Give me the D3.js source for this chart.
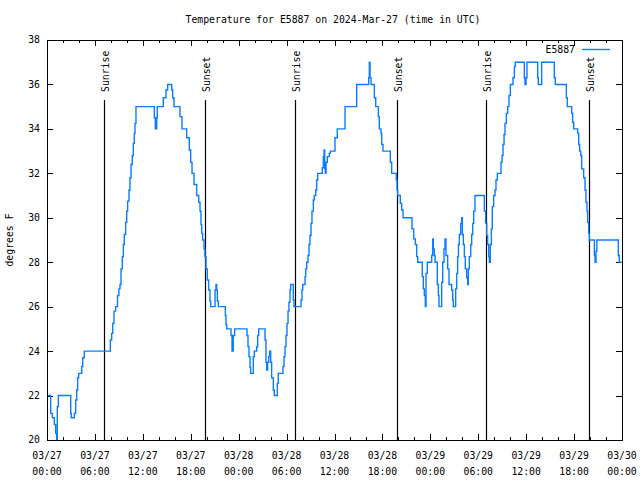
<!DOCTYPE html>
<html>
<head>
<meta charset="utf-8">
<script src="https://cdn.jsdelivr.net/npm/d3@7"></script>
<style>
  html, body { margin: 0; padding: 0; background: #fff; }
  svg { display: block; }
  text { font-family: "DejaVu Sans Mono", "Liberation Mono", monospace; font-size: 9.8px; fill: #000; }
</style>
</head>
<body>
<svg id="chart" width="640" height="480"></svg>
<script>
// ---- data (hours since 2024-03-27 00:00 UTC, temperature in deg F) ----
const titleText = "Temperature for E5887 on 2024-Mar-27 (time in UTC)";
const seriesName = "E5887";
const yLabel = "degrees F";
const startDate = "2024-03-27T00:00:00Z";
const endDate = "2024-03-30T00:00:00Z";
const yTicks = [20, 22, 24, 26, 28, 30, 32, 34, 36, 38];

const hours = [
  0, 0.46, 0.67, 0.92, 1.09, 1.21, 1.29, 1.42, 2.97, 3.04, 3.42, 3.59, 3.72, 3.84, 3.97, 4.35, 4.47, 4.67,
  7.93, 8.1, 8.23, 8.39, 8.6, 8.83, 9.0, 9.14, 9.27, 9.43, 9.56, 9.68, 9.85, 9.98, 10.1, 10.27, 10.39, 10.52,
  10.68, 10.81, 10.93, 11.02, 11.14, 13.44, 13.56, 13.74, 13.81, 14.56, 14.9, 15.11, 15.61, 15.74, 15.9,
  16.65, 16.9, 17.49, 17.82, 17.99, 18.16, 18.41, 18.74, 19.0, 19.16, 19.28, 19.37, 19.49, 19.66, 19.78,
  19.91, 20.07, 20.24, 20.41, 20.5, 21.04, 21.16, 21.25, 21.33, 21.45, 22.33, 22.41, 22.5, 23.04, 23.17,
  23.33, 23.5, 25.04, 25.17, 25.29, 25.42, 25.5, 25.83, 25.96, 26.26, 26.38, 26.51, 27.3, 27.42, 27.51,
  27.63, 27.76, 27.88, 28.01, 28.13, 28.34, 28.46, 28.84, 28.96, 29.55, 29.68, 29.8, 29.93, 30.05, 30.18,
  30.3, 30.43, 30.51, 30.84, 30.93, 31.81, 31.93, 32.02, 32.31, 32.39, 32.52, 32.68, 32.81, 32.93, 33.06,
  33.18, 33.35, 33.47, 33.65, 33.77, 33.9, 34.47, 34.6, 34.69, 34.77, 34.85, 34.94, 35.1, 35.35, 35.48,
  36.06, 36.35, 37.32, 38.78, 40.28, 40.36, 40.45, 40.57, 40.99, 41.16, 41.49, 41.61, 41.82, 41.91, 42.07,
  42.99, 43.16, 43.74, 43.83, 43.91, 44.24, 44.41, 44.58, 45.71, 45.92, 46.12, 46.29, 46.42, 46.99, 47.12,
  47.25, 47.37, 47.46, 47.62, 48.17, 48.3, 48.37, 48.5, 48.59, 48.87, 49.0, 49.09, 49.42, 49.55, 49.71,
  49.84, 49.96, 50.17, 50.34, 50.67, 50.8, 50.88, 51.17, 51.3, 51.42, 51.52, 51.63, 51.8, 51.93, 52.01,
  52.13, 52.26, 52.38, 52.55, 52.68, 52.76, 52.88, 53.06, 53.18, 53.31, 53.43, 53.59, 54.76, 54.93, 55.06,
  55.18, 55.31, 55.39, 55.51, 55.64, 55.76, 55.93, 56.1, 56.22, 56.39, 56.85, 56.98, 57.1, 57.23, 57.35,
  57.52, 57.69, 57.85, 58.02, 58.35, 58.52, 58.64, 59.77, 59.85, 59.98, 60.1, 61.44, 61.52, 61.94, 63.52,
  63.65, 65.03, 65.15, 65.7, 65.82, 65.95, 66.45, 66.58, 66.7, 66.83, 66.95, 67.2, 67.37, 67.49, 67.62,
  67.7, 67.83, 67.91, 68.54, 68.63, 68.75, 68.85, 71.54, 71.66, 72
];
const temps = [
  22, 21.2, 21, 20.7, 20.3, 20, 21.5, 22, 21.2, 21, 21.2, 21.8, 22.25, 22.8, 23, 23.3, 23.7, 24,
  24.5, 24.8, 25.25, 25.8, 26, 26.5, 26.8, 27, 27.7, 28.25, 28.8, 29.25, 29.8, 30.3, 30.75, 31.25, 31.8, 32.4,
  32.8, 33.35, 33.8, 34.25, 35, 34.5, 34, 34.5, 35, 35.4, 35.75, 36, 35.75, 35.4, 35,
  34.55, 34, 33.6, 33.05, 32.5, 32, 31.5, 31, 30.7, 30.3, 29.7, 29.3, 29.0, 28.6, 28.25,
  27.7, 27.2, 26.75, 26.25, 26, 26.75, 27, 26.75, 26.25, 26, 25.6, 25.2, 25, 24.7, 24,
  24.7, 25, 24.7, 24.2, 23.75, 23.27, 23, 23.75, 24, 24.2, 24.7, 25, 24.5, 23.5, 23.15,
  23.5, 23.75, 24, 23.5, 22.8, 22.25, 22, 22.55, 23, 23.3, 23.75, 24.2, 24.7, 25.25, 25.8,
  26.2, 26.75, 27, 26.3, 26, 26.3, 26.75, 27, 27.35, 27.7, 28, 28.3, 28.8, 29.2, 29.75,
  30.3, 30.8, 31, 31.25, 31.7, 32, 32.25, 32.75, 33.05, 32.2, 32, 32.5, 32.75, 32.9, 33,
  33.6, 34, 35, 36, 36.3, 37, 36.3, 36, 35.4, 35, 34.55, 34, 33.8, 33.3, 33,
  32.5, 32, 31.7, 31.25, 31, 30.65, 30.35, 30, 29.5, 29.05, 28.8, 28.25, 28, 27.35, 26.8,
  26.5, 26, 27.5, 28, 28.3, 29.05, 28.6, 28.3, 28, 27, 26.5, 26, 27.1, 28, 28.6,
  29.05, 28.3, 27.7, 27, 26.75, 26.3, 26, 26.8, 27.5, 28.25, 28.8, 29.25, 29.75, 30, 29.25,
  28.8, 28.25, 27.7, 27.3, 27, 27.7, 28.25, 28.8, 29.25, 29.75, 30.3, 31, 30.3, 29.75, 29.2,
  28.8, 28.25, 28, 28.8, 29.5, 30.5, 31, 31.25, 31.7, 32, 32.5, 32.8, 33.3, 33.75, 34.25,
  34.7, 35, 35.5, 36, 36.3, 36.8, 37, 36.3, 36, 36.3, 37, 36.3, 36, 37, 36.3,
  36, 35.4, 35, 34.7, 34.3, 34, 33.8, 33.3, 33, 32.8, 32.2, 31.8, 31.25, 30.7, 30.3,
  29.8, 29.3, 29, 28.3, 28, 28.5, 29, 28.3, 28, 28
];
const sunriseHours = [7.1, 31.0, 54.95];
const sunsetHours = [19.83, 43.87, 67.91];

// ---- layout ----
const W = 640, H = 480;
const m = { left: 47, right: 622, top: 40, bottom: 440 };
const lineColor = "#0a7cff";

const svg = d3.select("#chart");
const t0 = new Date(startDate), t1 = new Date(endDate);
const toDate = h => new Date(t0.getTime() + h * 3600000);

const x = d3.scaleUtc().domain([t0, t1]).range([m.left, m.right]);
const y = d3.scaleLinear().domain([20, 38]).range([m.bottom, m.top]);

const data = hours.map((h, i) => ({ t: toDate(h), v: temps[i] }));

// title
svg.append("text").attr("x", 333).attr("y", 23).attr("text-anchor", "middle").text(titleText);

// clip
svg.append("clipPath").attr("id", "clip").append("rect")
  .attr("x", m.left).attr("y", m.top).attr("width", m.right - m.left).attr("height", m.bottom - m.top);

// ticks
const majorTimes = d3.utcHour.every(6).range(t0, d3.utcHour.offset(t1, 1));
const minorTimes = d3.utcHour.every(2).range(t0, t1).filter(d => d.getUTCHours() % 6 !== 0);
const tickG = svg.append("g").attr("stroke", "#000").attr("stroke-width", 1).attr("shape-rendering", "crispEdges");
majorTimes.forEach(d => {
  const xx = Math.round(x(d)) + 0.5;
  tickG.append("line").attr("x1", xx).attr("x2", xx).attr("y1", m.bottom).attr("y2", m.bottom - 6);
  tickG.append("line").attr("x1", xx).attr("x2", xx).attr("y1", m.top).attr("y2", m.top + 6);
});
minorTimes.forEach(d => {
  const xx = Math.round(x(d)) + 0.5;
  tickG.append("line").attr("x1", xx).attr("x2", xx).attr("y1", m.bottom).attr("y2", m.bottom - 3);
  tickG.append("line").attr("x1", xx).attr("x2", xx).attr("y1", m.top).attr("y2", m.top + 3);
});
yTicks.forEach(v => {
  const yy = Math.round(y(v)) + 0.5;
  tickG.append("line").attr("x1", m.left).attr("x2", m.left + 6).attr("y1", yy).attr("y2", yy);
  tickG.append("line").attr("x1", m.right).attr("x2", m.right - 6).attr("y1", yy).attr("y2", yy);
});

// x labels
const fmtD = d3.utcFormat("%m/%d"), fmtT = d3.utcFormat("%H:%M");
majorTimes.forEach(d => {
  const tx = svg.append("text").attr("text-anchor", "middle");
  tx.append("tspan").attr("x", x(d)).attr("y", 459).text(fmtD(d));
  tx.append("tspan").attr("x", x(d)).attr("y", 475).text(fmtT(d));
});
// y labels
yTicks.forEach(v => {
  svg.append("text").attr("x", 40).attr("y", y(v)).attr("dy", "0.35em").attr("text-anchor", "end").text(v);
});
svg.append("text").attr("transform", "translate(13,240) rotate(-90)").attr("text-anchor", "middle").text(yLabel);

// sunrise / sunset lines
const sunEvents = sunriseHours.map(h => ({ h, label: "Sunrise" }))
  .concat(sunsetHours.map(h => ({ h, label: "Sunset" })));
sunEvents.forEach(e => {
  const xx = Math.round(x(toDate(e.h))) + 0.5;
  svg.append("line").attr("x1", xx).attr("x2", xx).attr("y1", 100).attr("y2", m.bottom)
    .attr("stroke", "#000").attr("stroke-width", 1.2);
  svg.append("text").attr("transform", `translate(${xx + 4},92) rotate(-90)`)
    .attr("text-anchor", "start").text(e.label);
});

// data line
const line = d3.line().x(d => x(d.t)).y(d => y(d.v)).curve(d3.curveStepAfter);
svg.append("path").datum(data).attr("clip-path", "url(#clip)")
  .attr("fill", "none").attr("stroke", lineColor).attr("stroke-width", 1.4).attr("d", line);

// frame
svg.append("rect").attr("x", m.left + 0.5).attr("y", m.top + 0.5)
  .attr("width", m.right - m.left).attr("height", m.bottom - m.top)
  .attr("fill", "none").attr("stroke", "#000").attr("stroke-width", 1).attr("shape-rendering", "crispEdges");

// legend
svg.append("text").attr("x", 575).attr("y", 53).attr("text-anchor", "end").text(seriesName);
svg.append("line").attr("x1", 582).attr("x2", 610).attr("y1", 49.5).attr("y2", 49.5)
  .attr("stroke", lineColor).attr("stroke-width", 1.4);
</script>
</body>
</html>
